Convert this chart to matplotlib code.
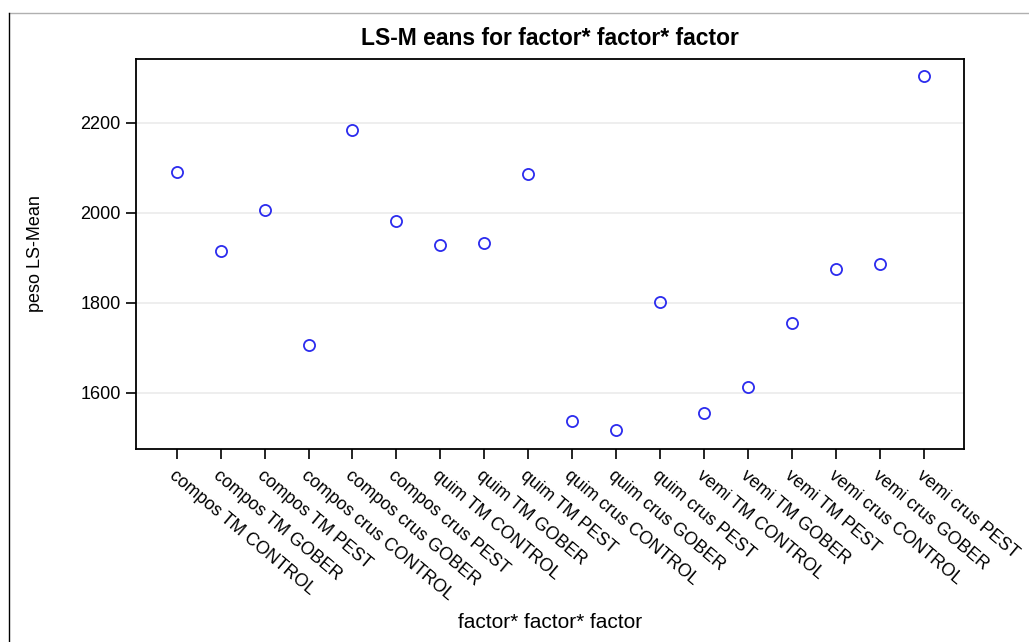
import matplotlib
matplotlib.use("Agg")
import matplotlib.pyplot as plt
from matplotlib.lines import Line2D

plt.rcParams['font.family'] = ['Liberation Sans', 'DejaVu Sans']

labels = [
    "compos TM CONTROL", "compos TM GOBER", "compos TM PEST",
    "compos crus CONTROL", "compos crus GOBER", "compos crus PEST",
    "quim TM CONTROL", "quim TM GOBER", "quim TM PEST",
    "quim crus CONTROL", "quim crus GOBER", "quim crus PEST",
    "vemi TM CONTROL", "vemi TM GOBER", "vemi TM PEST",
    "vemi crus CONTROL", "vemi crus GOBER", "vemi crus PEST",
]
lsmeans = [2090, 1916, 2007, 1707, 2184, 1981, 1929, 1932, 2085,
           1538, 1517, 1801, 1556, 1613, 1754, 1876, 1887, 2303]
yticks = [1600, 1800, 2000, 2200]

fig = plt.figure(figsize=(10.29, 6.42), dpi=100)
ax = fig.add_axes([136 / 1029, 1 - 448.7 / 642, (964.3 - 136) / 1029, (448.7 - 58.7) / 642])

x = list(range(len(labels)))
ax.plot(x, lsmeans, linestyle="none", marker="o", markersize=8, markerfacecolor="none",
        markeredgecolor="#2b2bee", markeredgewidth=1.3, zorder=3)

ax.set_xlim(-0.925, 17.92)
ax.set_ylim(1475.6, 2342.2)
ax.set_yticks(yticks)
ax.set_yticklabels([str(v) for v in yticks], fontsize=13)
ax.set_xticks(x)
ax.set_xticklabels(labels, fontsize=12.8, rotation=-40, ha="left", va="top",
                   rotation_mode="anchor")
ax.grid(axis="y", color="#ebebeb", linewidth=1.2, zorder=0)
ax.set_axisbelow(True)
for s in ax.spines.values():
    s.set_linewidth(1.3)
ax.tick_params(axis="both", length=7, width=1.2, pad=4)
ax.tick_params(axis="x", pad=6)

ax.set_title("LS-M eans for factor* factor* factor", fontsize=16.5, fontweight="bold", pad=10)
ax.set_ylabel("peso LS-Mean", fontsize=13, labelpad=26)
fig.text(550 / 1029, 1 - 622 / 642, "factor* factor* factor", fontsize=15,
         ha="center", va="center")

# outer frame lines (top and left)
fig.add_artist(Line2D([8.5 / 1029, 1], [1 - 12.5 / 642, 1 - 12.5 / 642],
                      transform=fig.transFigure, color="#b0b0b0", linewidth=1))
fig.add_artist(Line2D([8.5 / 1029, 8.5 / 1029], [0, 1 - 12.5 / 642],
                      transform=fig.transFigure, color="black", linewidth=1))

fig.savefig("out.png", dpi=100)
